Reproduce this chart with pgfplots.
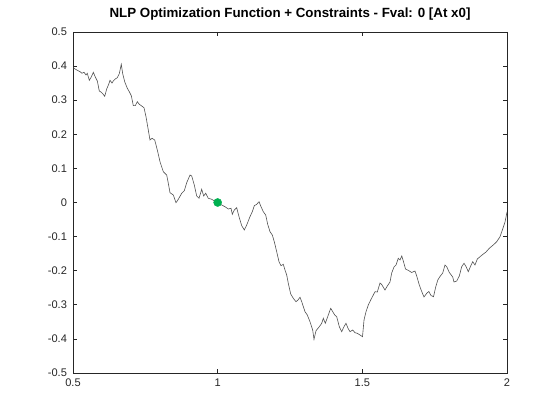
\documentclass[border=0pt]{standalone}
\usepackage{pgfplots}
\pgfplotsset{compat=1.18}
\usepackage{fontspec}
\setmainfont{Liberation Sans}
\definecolor{axgray}{RGB}{38,38,38}
\definecolor{curvegray}{RGB}{80,80,80}
\definecolor{dotgreen}{RGB}{0,176,80}
\begin{document}
\begin{tikzpicture}
\useasboundingbox (-54.75pt,-35.25pt) rectangle (365.25pt,279.75pt);
\begin{axis}[
  at={(0,0)}, anchor=south west,
  scale only axis,
  width=325.5pt, height=255.75pt,
  xmin=0.5, xmax=2, ymin=-0.5, ymax=0.5,
  xtick={0.5,1,1.5,2},
  xticklabels={0.5,1,1.5,2},
  ytick={-0.5,-0.4,-0.3,-0.2,-0.1,0,0.1,0.2,0.3,0.4,0.5},
  yticklabels={-0.5,-0.4,-0.3,-0.2,-0.1,0,0.1,0.2,0.3,0.4,0.5},
  tick pos=both,
  tick align=inside,
  major tick length=3pt,
  axis line style={axgray, line width=0.5pt},
  tick style={axgray, line width=0.5pt},
  ticklabel style={font=\fontsize{8.3}{10}\selectfont, text=axgray},
  yticklabel style={xshift=-1pt},
  xticklabel style={yshift=-1pt},
  title={\textbf{NLP Optimization Function + Constraints - Fval: 0 [At x0]}},
  title style={font=\fontsize{10}{12}\selectfont, at={(0.5,1)}, anchor=base, yshift=5pt},
  clip=true,
]
\addplot[curvegray, line width=0.45pt] coordinates {
(0.5000,0.3953) (0.5128,0.3886) (0.5242,0.3836) (0.5311,0.3789) (0.5380,0.3818)
(0.5449,0.3739) (0.5494,0.3789) (0.5563,0.3584) (0.5632,0.3680) (0.5702,0.3818)
(0.5771,0.3680) (0.5840,0.3563) (0.5909,0.3270) (0.5978,0.3232) (0.6026,0.3191)
(0.6096,0.3114) (0.6165,0.3328) (0.6234,0.3466) (0.6279,0.3584) (0.6348,0.3504)
(0.6393,0.3563) (0.6462,0.3622) (0.6531,0.3660) (0.6600,0.3777) (0.6669,0.4053)
(0.6718,0.3777) (0.6787,0.3542) (0.6877,0.3349) (0.6946,0.3249) (0.7015,0.3132)
(0.7084,0.2839) (0.7153,0.2839) (0.7222,0.2956) (0.7291,0.2880) (0.7361,0.2839)
(0.7454,0.2780) (0.7523,0.2516) (0.7592,0.2176) (0.7661,0.1833) (0.7730,0.1883)
(0.7824,0.1833) (0.7914,0.1540) (0.8007,0.1196) (0.8121,0.0903) (0.8238,0.0806)
(0.8294,0.0563) (0.8353,0.0287) (0.8467,0.0220) (0.8560,-0.0006) (0.8639,0.0094)
(0.8757,0.0270) (0.8847,0.0346) (0.8930,0.0581) (0.9044,0.0806) (0.9103,0.0777)
(0.9192,0.0513) (0.9275,0.0191) (0.9355,0.0123) (0.9448,0.0387) (0.9517,0.0191)
(0.9586,0.0270) (0.9676,0.0123) (0.9794,0.0094) (0.9873,0.0053) (1.0000,0.0000)
(1.0139,-0.0073) (1.0253,-0.0123) (1.0367,-0.0191) (1.0461,-0.0170) (1.0506,-0.0346)
(1.0575,-0.0220) (1.0658,-0.0153) (1.0737,-0.0416) (1.0831,-0.0680) (1.0921,-0.0806)
(1.1003,-0.0660) (1.1117,-0.0416) (1.1197,-0.0270) (1.1266,-0.0094) (1.1349,-0.0053)
(1.1429,0.0023) (1.1498,-0.0123) (1.1577,-0.0270) (1.1660,-0.0367) (1.1729,-0.0639)
(1.1809,-0.0856) (1.1888,-0.0953) (1.1957,-0.1150) (1.2040,-0.1443) (1.2120,-0.1736)
(1.2189,-0.1853) (1.2268,-0.1812) (1.2327,-0.1980) (1.2386,-0.2126) (1.2441,-0.2370)
(1.2524,-0.2683) (1.2614,-0.2810) (1.2707,-0.2909) (1.2776,-0.2859) (1.2846,-0.2780)
(1.2905,-0.2909) (1.3018,-0.3202) (1.3098,-0.3299) (1.3191,-0.3496) (1.3284,-0.3739)
(1.3329,-0.4012) (1.3399,-0.3760) (1.3513,-0.3642) (1.3596,-0.3543) (1.3651,-0.3396)
(1.3720,-0.3543) (1.3824,-0.3299) (1.3907,-0.3103) (1.3976,-0.3202) (1.4045,-0.3299)
(1.4114,-0.3349) (1.4204,-0.3642) (1.4287,-0.3789) (1.4366,-0.3642) (1.4435,-0.3543)
(1.4505,-0.3689) (1.4574,-0.3789) (1.4667,-0.3739) (1.4746,-0.3818) (1.4826,-0.3836)
(1.4919,-0.3886) (1.5006,-0.3935) (1.5058,-0.3446) (1.5127,-0.3202) (1.5206,-0.3006)
(1.5289,-0.2859) (1.5379,-0.2713) (1.5438,-0.2616) (1.5517,-0.2625) (1.5611,-0.2361)
(1.5669,-0.2405) (1.5783,-0.2566) (1.5863,-0.2449) (1.5956,-0.2331) (1.6015,-0.2068)
(1.6094,-0.1892) (1.6164,-0.1833) (1.6243,-0.1636) (1.6302,-0.1686) (1.6364,-0.1569)
(1.6423,-0.1736) (1.6492,-0.1950) (1.6596,-0.1994) (1.6706,-0.2053) (1.6820,-0.2009)
(1.6879,-0.2156) (1.6969,-0.2419) (1.7045,-0.2595) (1.7131,-0.2771) (1.7225,-0.2663)
(1.7297,-0.2610) (1.7373,-0.2727) (1.7460,-0.2762) (1.7536,-0.2478) (1.7608,-0.2273)
(1.7684,-0.2170) (1.7778,-0.2068) (1.7857,-0.1833) (1.7916,-0.1883) (1.8006,-0.2053)
(1.8123,-0.2185) (1.8168,-0.2331) (1.8262,-0.2302) (1.8351,-0.2156) (1.8434,-0.1883)
(1.8514,-0.1783) (1.8583,-0.1877) (1.8662,-0.2029) (1.8745,-0.1862) (1.8814,-0.1736)
(1.8894,-0.1833) (1.8974,-0.1657) (1.9067,-0.1590) (1.9160,-0.1525) (1.9274,-0.1452)
(1.9388,-0.1343) (1.9526,-0.1246) (1.9644,-0.1150) (1.9758,-0.1003) (1.9852,-0.0777)
(1.9931,-0.0572) (1.9966,-0.0425) (2.0000,-0.0279)
};
\addplot[only marks, mark=*, mark size=3pt, draw=dotgreen, fill=dotgreen] coordinates {(1,0)};
\end{axis}
\end{tikzpicture}
\end{document}
